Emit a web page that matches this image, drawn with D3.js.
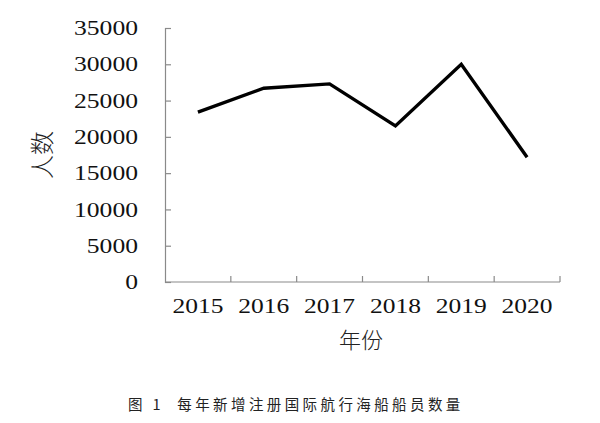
<!DOCTYPE html>
<html>
<head>
<meta charset="utf-8">
<script src="https://cdn.jsdelivr.net/npm/d3@7"></script>
<style>
  html, body { margin: 0; padding: 0; background: #fff; }
  svg { display: block; }
</style>
</head>
<body>
<svg id="chart" width="600" height="423"></svg>
<script>
const years = ["2015", "2016", "2017", "2018", "2019", "2020"];
const values = [23400, 26700, 27300, 21500, 30000, 17200];
const yTicks = [0, 5000, 10000, 15000, 20000, 25000, 30000, 35000];
const yTitle = "人数";
const xTitle = "年份";
const caption = "图 1  每年新增注册国际航行海船船员数量";

const svg = d3.select("#chart");
const m = { left: 165, right: 560, top: 28, bottom: 282 };

const x = d3.scaleBand().domain(years).range([m.left, m.right]);
const y = d3.scaleLinear().domain([0, 35000]).range([m.bottom, m.top]);

const serif = "'Liberation Serif', 'Times New Roman', serif";
const axisColor = "#8a8a8a";

// Y axis
const yAxis = svg.append("g").attr("transform", `translate(${m.left},0)`)
  .call(d3.axisRight(y).tickValues(yTicks).tickSize(6).tickFormat(""));
yAxis.select(".domain").attr("stroke", axisColor).attr("stroke-width", 1.2);
yAxis.selectAll(".tick line").attr("stroke", axisColor).attr("stroke-width", 1.2);

svg.append("g").selectAll("text").data(yTicks).join("text")
  .attr("x", 138).attr("y", d => y(d)).attr("dy", "0.36em")
  .attr("text-anchor", "end")
  .attr("font-family", serif).attr("font-size", 20).attr("fill", "#111")
  .attr("textLength", d => String(d).length * 12.8)
  .attr("lengthAdjust", "spacingAndGlyphs")
  .text(d => d);

// X axis
const xAxis = svg.append("g").attr("transform", `translate(0,${m.bottom})`);
xAxis.append("line").attr("x1", m.left).attr("x2", m.right)
  .attr("stroke", axisColor).attr("stroke-width", 1.2);
const bounds = years.map(d => x(d) + x.bandwidth());
xAxis.selectAll("line.tk").data(bounds).join("line").attr("class", "tk")
  .attr("x1", d => d).attr("x2", d => d).attr("y1", 0).attr("y2", -6)
  .attr("stroke", axisColor).attr("stroke-width", 1.2);

svg.append("g").selectAll("text").data(years).join("text")
  .attr("x", d => x(d) + x.bandwidth() / 2).attr("y", 313)
  .attr("text-anchor", "middle")
  .attr("font-family", serif).attr("font-size", 20).attr("fill", "#111")
  .attr("textLength", 51)
  .attr("lengthAdjust", "spacingAndGlyphs")
  .text(d => d);

// Line
const line = d3.line()
  .x((d, i) => x(years[i]) + x.bandwidth() / 2)
  .y(d => y(d));
svg.append("path").datum(values)
  .attr("d", line).attr("fill", "none")
  .attr("stroke", "#000").attr("stroke-width", 3.4)
  .attr("stroke-linejoin", "miter");

// Titles
svg.append("text")
  .attr("transform", "translate(43,155) rotate(-90)")
  .attr("text-anchor", "middle").attr("dy", "0.35em")
  .attr("font-family", "'Noto Sans CJK SC', sans-serif").attr("font-weight", 300)
  .attr("font-size", 24).attr("fill", "#222")
  .text(yTitle);

svg.append("text")
  .attr("x", 361).attr("y", 340).attr("dy", "0.35em")
  .attr("text-anchor", "middle")
  .attr("font-family", "'Noto Sans CJK SC', sans-serif").attr("font-weight", 300)
  .attr("font-size", 22).attr("fill", "#222")
  .text(xTitle);

// Caption
svg.append("text")
  .attr("x", 128).attr("y", 405).attr("dy", "0.35em")
  .attr("font-family", "'Noto Sans CJK SC', sans-serif").attr("font-weight", 400)
  .attr("font-size", 14.5).attr("fill", "#222")
  .attr("letter-spacing", 3.4)
  .attr("xml:space", "preserve")
  .style("white-space", "pre")
  .text(caption);
</script>
</body>
</html>
